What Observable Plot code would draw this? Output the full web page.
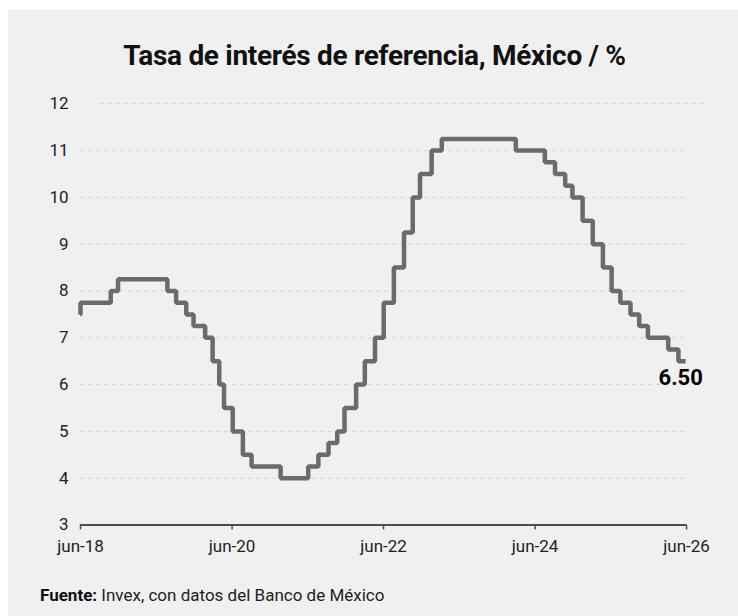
<!DOCTYPE html>
<html>
<head>
<meta charset="utf-8">
<script src="https://cdn.jsdelivr.net/npm/d3@7"></script>
<script src="https://cdn.jsdelivr.net/npm/@observablehq/plot@0.6"></script>
<style>
  html, body { margin: 0; padding: 0; background: #ffffff; }
  #card { position: absolute; left: 8px; top: 10px; width: 730px; height: 606px; background: #f0f0f0; font-family: Roboto, sans-serif; }
  #title { position: absolute; left: 0; top: 32px; width: 733px; text-align: center; font-size: 28px; line-height: 28px; font-weight: 700; color: #111; letter-spacing: -0.3px; }
  #chart { position: absolute; left: 0; top: 80px; }
  #caption { position: absolute; left: 32px; top: 577px; font-size: 17px; line-height: 17px; color: #222; }
  #caption b { font-weight: 700; color: #111; }
</style>
</head>
<body>
<div id="card">
  <div id="title">Tasa de interés de referencia, México / %</div>
  <div id="chart"></div>
  <div id="caption"><b>Fuente:</b> Invex, con datos del Banco de México</div>
</div>
<script>
// Decision dates and resulting reference rate (%)
const dates = [
  "2018-06-21","2018-06-22","2018-11-15","2018-12-20","2019-08-15","2019-09-26","2019-11-14","2019-12-19",
  "2020-02-13","2020-03-20","2020-04-21","2020-05-14","2020-06-25","2020-08-13","2020-09-24","2021-02-11",
  "2021-06-24","2021-08-12","2021-09-30","2021-11-11","2021-12-16","2022-02-10","2022-03-24","2022-05-12",
  "2022-06-23","2022-08-11","2022-09-29","2022-11-10","2022-12-15","2023-02-09","2023-03-30","2024-03-21",
  "2024-08-08","2024-09-26","2024-11-14","2024-12-19","2025-02-06","2025-03-27","2025-05-15","2025-06-26",
  "2025-08-07","2025-09-25","2025-11-06","2025-12-18","2026-03-26","2026-05-14","2026-06-18"
];
const rates = [
  7.50, 7.75, 8.00, 8.25, 8.00, 7.75, 7.50, 7.25,
  7.00, 6.50, 6.00, 5.50, 5.00, 4.50, 4.25, 4.00,
  4.25, 4.50, 4.75, 5.00, 5.50, 6.00, 6.50, 7.00,
  7.75, 8.50, 9.25, 10.00, 10.50, 11.00, 11.25, 11.00,
  10.75, 10.50, 10.25, 10.00, 9.50, 9.00, 8.50, 8.00,
  7.75, 7.50, 7.25, 7.00, 6.75, 6.50, 6.50
];
const xTickDates = ["2018-06-22","2020-06-22","2022-06-22","2024-06-22","2026-06-22"];
const xTickLabels = ["jun-18","jun-20","jun-22","jun-24","jun-26"];
const yTicks = [3,4,5,6,7,8,9,10,11,12];
const yGrid = [4,5,6,7,8,9,10,11];
const yTop = [12];

const data = dates.map((d, i) => ({date: new Date(d + "T00:00:00Z"), rate: rates[i]}));
const xTicks = xTickDates.map(d => new Date(d + "T00:00:00Z"));
const last = data[data.length - 1];

const chart = Plot.plot({
  width: 730,
  height: 480,
  marginLeft: 72,
  marginRight: 52,
  marginTop: 13.3,
  marginBottom: 45.5,
  style: {background: "transparent", fontFamily: "Roboto, sans-serif", fontSize: "17px", color: "#222"},
  x: {type: "utc", domain: [xTicks[0], xTicks[xTicks.length - 1]]},
  y: {domain: [3, 12]},
  marks: [
    Plot.ruleY(yGrid, {stroke: "#d6d6d6", strokeWidth: 1, strokeDasharray: "4,4"}),
    Plot.ruleY(yTop, {stroke: "#d6d6d6", strokeWidth: 1, strokeDasharray: "4,4", dx: 20}),
    Plot.axisY({ticks: yTicks, tickSize: 0, tickPadding: 12, label: null, tickFormat: d => String(d)}),
    Plot.ruleY([3], {stroke: "#4d4d4d", strokeWidth: 2}),
    Plot.axisX({ticks: xTicks, tickSize: 5, tickPadding: 10, label: null, stroke: "#4d4d4d", strokeWidth: 1.5,
      tickFormat: (d, i) => xTickLabels[i]}),
    Plot.line(data, {x: "date", y: "rate", curve: "step-after", stroke: "#6b6b6b", strokeWidth: 4.5,
      strokeLinejoin: "miter", strokeLinecap: "butt"}),
    Plot.text([last], {x: "date", y: "rate", text: d => d.rate.toFixed(2), dx: -5, dy: 17,
      fontSize: 22, fontWeight: "bold", fill: "#000"})
  ]
});
document.getElementById("chart").append(chart);
</script>
</body>
</html>
